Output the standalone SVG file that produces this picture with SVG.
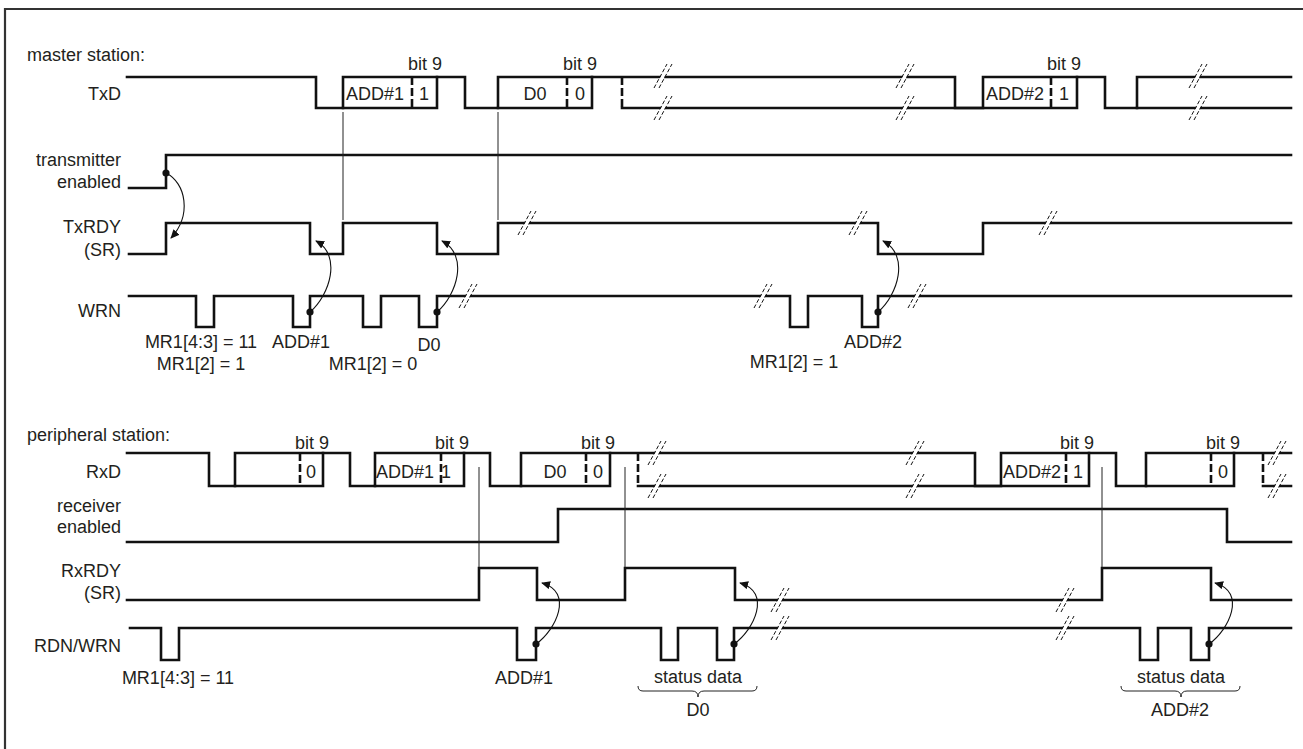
<svg xmlns="http://www.w3.org/2000/svg" width="1303" height="749" viewBox="0 0 1303 749">
<style>
text{font-family:"Liberation Sans",Arial,sans-serif;font-size:18px;fill:#231f20}
.r{text-anchor:end}
.m{text-anchor:middle}
.sig{fill:none;stroke:#111;stroke-width:2.6;stroke-linejoin:miter;stroke-linecap:square}
.dash{fill:none;stroke:#111;stroke-width:2.6;stroke-dasharray:8 3}
.thin{fill:none;stroke:#222;stroke-width:1}
.arr{fill:none;stroke:#111;stroke-width:1.1;marker-end:url(#ah)}
.dot{fill:#111}
.frame{fill:none;stroke:#333;stroke-width:2.2}
</style>
<defs>
<marker id="ah" viewBox="0 0 10 10" refX="9" refY="5" markerWidth="9" markerHeight="9" markerUnits="userSpaceOnUse" orient="auto">
<path d="M0,0.5 L10,5 L0,9.5 z" fill="#111"/>
</marker>
<g id="brk">
<polygon points="-8,12 -4,12 8,-12 4,-12" fill="#fff"/>
<line x1="-9" y1="12" x2="4" y2="-12" stroke="#111" stroke-width="1" stroke-dasharray="4 2"/>
<line x1="-4" y1="12" x2="9" y2="-12" stroke="#111" stroke-width="1" stroke-dasharray="4 2"/>
</g>
</defs>
<rect width="1303" height="749" fill="#fff"/>
<path class="frame" d="M5,749 V9 H1303"/>

<g id="master-title"><text x="27" y="61">master station:</text></g>

<g id="TxD">
<text class="r" x="121" y="100">TxD</text>
<path class="sig" d="M127,77 H316 V108 H343 V77 H465 V108 H498 V77 H955 V108 H983 V77 H1105 V108 H1137 V77 H1291"/>
<path class="sig" d="M343,108 H437 V77 M498,108 H592 V77 M622,108 H983 M983,108 H1077 V77 M1137,108 H1291"/>
<path class="dash" d="M412,77 V108 M567,77 V108 M622,77 V108 M1051,77 V108"/>
<text x="346" y="100">ADD#1</text><text class="m" x="424" y="100">1</text>
<text class="m" x="535" y="100">D0</text><text class="m" x="580" y="100">0</text>
<text x="986" y="100">ADD#2</text><text class="m" x="1064" y="100">1</text>
<text class="m" x="425" y="70">bit 9</text>
<text class="m" x="580" y="70">bit 9</text>
<text class="m" x="1064" y="70">bit 9</text>
<use href="#brk" x="663" y="76"/><use href="#brk" x="663" y="108"/>
<use href="#brk" x="905" y="76"/><use href="#brk" x="905" y="108"/>
<use href="#brk" x="1198" y="76"/><use href="#brk" x="1198" y="108"/>
</g>

<g id="transmitter-enabled">
<text class="r" x="121" y="166">transmitter</text>
<text class="r" x="121" y="188">enabled</text>
<path class="sig" d="M129,188 H166 V155 H1291"/>
</g>

<g id="TxRDY">
<text class="r" x="121" y="233">TxRDY</text>
<text class="r" x="121" y="256">(SR)</text>
<path class="sig" d="M129,254 H166 V223 H310 V254 H343 V223 H437 V254 H498 V223 H878 V254 H983 V223 H1291"/>
<use href="#brk" x="527" y="223"/><use href="#brk" x="858" y="223"/><use href="#brk" x="1048" y="223"/>
</g>

<g id="WRN">
<text class="r" x="121" y="317">WRN</text>
<path class="sig" d="M129,296 H196 V327 H214 V296 H293 V327 H310 V296 H363 V327 H381 V296 H419 V327 H437 V296 H790 V327 H808 V296 H862 V327 H878 V296 H1291"/>
<use href="#brk" x="468" y="296"/><use href="#brk" x="763" y="296"/><use href="#brk" x="917" y="296"/>
<text class="m" x="201" y="348">MR1[4:3] = 11</text>
<text class="m" x="201" y="370">MR1[2] = 1</text>
<text class="m" x="301" y="348">ADD#1</text>
<text class="m" x="373" y="370">MR1[2] = 0</text>
<text class="m" x="429" y="351">D0</text>
<text class="m" x="794" y="368">MR1[2] = 1</text>
<text class="m" x="873" y="348">ADD#2</text>
</g>

<g id="peripheral-title"><text x="27" y="441">peripheral station:</text></g>

<g id="RxD">
<text class="r" x="121" y="478">RxD</text>
<path class="sig" d="M127,453 H209 V486 H235 V453 H350 V486 H375 V453 H490 V486 H521 V453 H975 V486 H1001 V453 H1116 V486 H1146 V453 H1291"/>
<path class="sig" d="M235,486 H323 V453 M375,486 H464 V453 M521,486 H610 V453 M638,486 H1001 M1001,486 H1089 V453 M1146,486 H1234 V453 M1263,486 H1291"/>
<path class="dash" d="M300,453 V486 M441,453 V486 M586,453 V486 M638,453 V486 M1066,453 V486 M1211,453 V486 M1263,453 V486"/>
<text class="m" x="311" y="478">0</text>
<text x="376" y="478">ADD#1</text><text class="m" x="446" y="478">1</text>
<text class="m" x="555" y="478">D0</text><text class="m" x="598" y="478">0</text>
<text x="1003" y="478">ADD#2</text><text class="m" x="1078" y="478">1</text>
<text class="m" x="1223" y="478">0</text>
<text class="m" x="312" y="449">bit 9</text>
<text class="m" x="452" y="449">bit 9</text>
<text class="m" x="598" y="449">bit 9</text>
<text class="m" x="1077" y="449">bit 9</text>
<text class="m" x="1223" y="449">bit 9</text>
<use href="#brk" x="657" y="453"/><use href="#brk" x="657" y="486"/>
<use href="#brk" x="915" y="453"/><use href="#brk" x="915" y="486"/>
<use href="#brk" x="1277" y="453"/><use href="#brk" x="1277" y="486"/>
</g>

<g id="receiver-enabled">
<text class="r" x="121" y="512">receiver</text>
<text class="r" x="121" y="533">enabled</text>
<path class="sig" d="M127,542 H558 V509 H1227 V542 H1291"/>
</g>

<g id="RxRDY">
<text class="r" x="121" y="577">RxRDY</text>
<text class="r" x="121" y="599">(SR)</text>
<path class="sig" d="M127,600 H479 V568 H537 V600 H625 V568 H735 V600 H1102 V568 H1211 V600 H1291"/>
<use href="#brk" x="780" y="600"/><use href="#brk" x="1065" y="600"/>
</g>

<g id="RDN-WRN">
<text class="r" x="121" y="652">RDN/WRN</text>
<path class="sig" d="M130,628 H161 V660 H179 V628 H517 V660 H536 V628 H661 V660 H678 V628 H717 V660 H734 V628 H1140 V660 H1158 V628 H1191 V660 H1209 V628 H1291"/>
<use href="#brk" x="780" y="628"/><use href="#brk" x="1065" y="628"/>
<text class="m" x="178" y="684">MR1[4:3] = 11</text>
<text class="m" x="524" y="684">ADD#1</text>
<text class="m" x="698" y="683">status data</text>
<path class="thin" d="M638,686 Q638,691 643,691 H692 Q698,691 698,697 Q698,691 704,691 H752 Q757,691 757,686"/>
<text class="m" x="698" y="716">D0</text>
<text class="m" x="1181" y="683">status data</text>
<path class="thin" d="M1121,686 Q1121,691 1126,691 H1175 Q1181,691 1181,697 Q1181,691 1187,691 H1235 Q1240,691 1240,686"/>
<text class="m" x="1180" y="716">ADD#2</text>
</g>

<g id="connectors">
<path class="thin" d="M343,112 V220 M498,112 V220 M479,467 V567 M625,467 V567 M1102,467 V567"/>
<circle class="dot" cx="166" cy="173" r="3.6"/>
<circle class="dot" cx="310" cy="312" r="3.6"/>
<circle class="dot" cx="437" cy="312" r="3.6"/>
<circle class="dot" cx="878" cy="312" r="3.6"/>
<circle class="dot" cx="536" cy="644" r="3.6"/>
<circle class="dot" cx="734" cy="644" r="3.6"/>
<circle class="dot" cx="1209" cy="644" r="3.6"/>
<path class="arr" d="M166,173 C186,183 192,215 171,238"/>
<path class="arr" d="M310,312 C330,295 342,255 316,241"/>
<path class="arr" d="M437,312 C457,295 469,255 442,241"/>
<path class="arr" d="M878,312 C898,295 910,255 883,241"/>
<path class="arr" d="M536,644 C556,630 574,592 542,583"/>
<path class="arr" d="M734,644 C754,630 772,592 740,583"/>
<path class="arr" d="M1209,644 C1229,630 1247,592 1215,583"/>
</g>
</svg>
